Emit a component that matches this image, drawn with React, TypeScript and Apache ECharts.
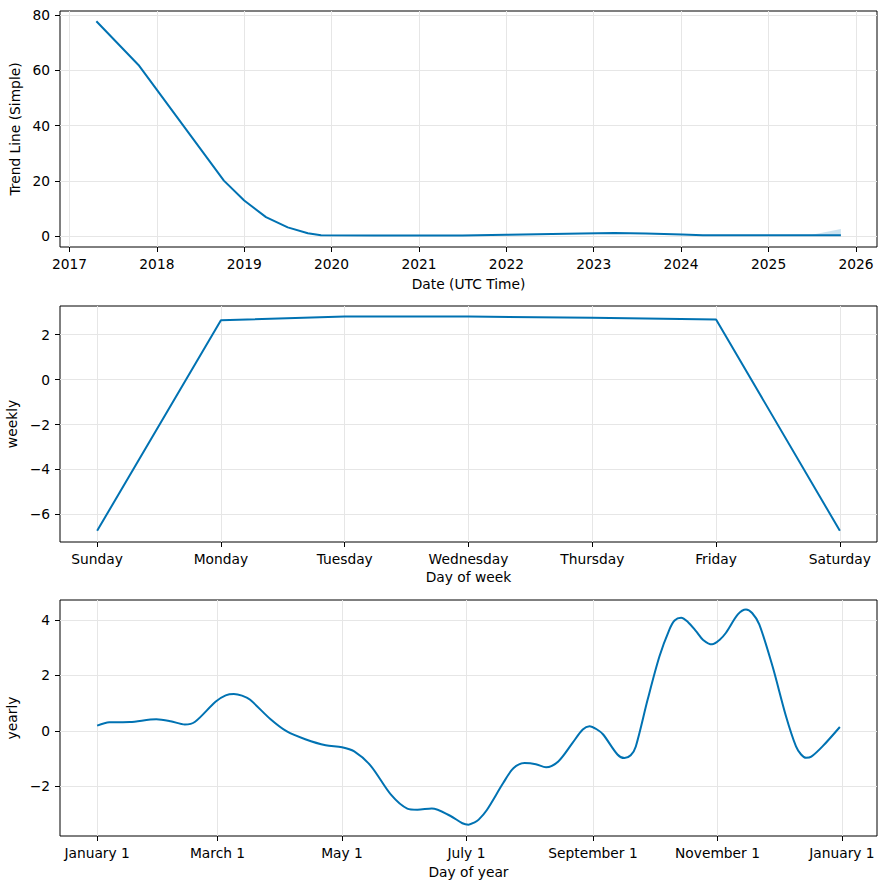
import React, { useEffect, useRef } from "react";
import * as echarts from "echarts";

// ---------- Trend panel ----------
const trendDates = [
  "2017-04-23", "2017-10-16", "2018-10-08",
  "2019-01-01", "2019-04-02", "2019-07-02", "2019-09-24", "2019-11-18", "2020-07-01",
  "2021-07-01", "2022-01-01", "2022-11-10", "2023-03-28", "2023-08-07", "2024-01-05",
  "2024-04-01", "2025-01-01", "2025-07-01", "2025-10-30",
];
const trendValues = [
  77.7, 61.9, 20.1,
  12.9, 6.9, 3.2, 1.1, 0.35, 0.3,
  0.3, 0.55, 1.0, 1.15, 1.0, 0.58,
  0.35, 0.35, 0.35, 0.35,
];
const trendUpper = [
  77.75, 61.95, 20.15,
  12.95, 6.95, 3.25, 1.15, 0.4, 0.35,
  0.35, 0.6, 1.05, 1.25, 1.15, 0.62,
  0.4, 0.4, 0.5, 2.6,
];
const trendLower = [
  77.65, 61.85, 20.05,
  12.85, 6.85, 3.15, 1.05, 0.3, 0.25,
  0.25, 0.5, 0.95, 1.05, 0.9, 0.54,
  0.3, 0.3, 0.3, 0.25,
];
const trendYearTicks = [2017, 2018, 2019, 2020, 2021, 2022, 2023, 2024, 2025, 2026];
const trendYTicks = [0, 20, 40, 60, 80];

// ---------- Weekly panel ----------
const weekdays = ["Sunday", "Monday", "Tuesday", "Wednesday", "Thursday", "Friday", "Saturday"];
const weeklyValues = [-6.73, 2.65, 2.81, 2.81, 2.76, 2.68, -6.73];
const weeklyXTicks = [0, 1, 2, 3, 4, 5, 6];
const weeklyYTicks = [-6, -4, -2, 0, 2];

// ---------- Yearly panel ----------
const yearlyDays = [
  0, 6, 16, 29, 36, 43, 48, 58, 63, 67, 71, 75, 85, 93, 102, 112, 120, 126, 134, 144,
  152, 157, 164, 173, 179, 182, 185, 187, 191, 199, 204, 209.5, 215, 220, 226, 233, 238, 241.3,
  245, 248, 255, 258.4, 261.5, 264, 269.8, 275.6, 280.5, 283, 286.2, 289.5, 293.5, 297, 301.4,
  305, 308.2, 314, 318, 321, 324.5, 331, 337.6, 342.5, 345, 347.4, 350, 355.5, 364,
];
const yearlyValues = [
  0.19, 0.31, 0.32, 0.42, 0.35, 0.23, 0.33, 1.05, 1.28, 1.33, 1.27, 1.12, 0.42, -0.02, -0.3, -0.52, -0.59, -0.74, -1.25, -2.3,
  -2.8, -2.84, -2.8, -3.06, -3.33, -3.38, -3.3, -3.2, -2.85, -1.88, -1.35, -1.16, -1.2, -1.31, -1.1, -0.43, 0.05, 0.17,
  0.05, -0.13, -0.85, -0.98, -0.88, -0.56, 1.13, 2.69, 3.66, 3.98, 4.08, 3.93, 3.6, 3.28, 3.12,
  3.28, 3.54, 4.2, 4.38, 4.25, 3.84, 2.33, 0.53, -0.56, -0.85, -0.97, -0.93, -0.56, 0.14,
];
const yearlyTickDays = [0, 59, 120, 181, 243, 304, 365];
const yearlyTickLabels = ["January 1", "March 1", "May 1", "July 1", "September 1", "November 1", "January 1"];
const yearlyYTicks = [-2, 0, 2, 4];

const LINE = "#0072B2";
const FONT = "DejaVu Sans";
const FS = 13.8;

function ts(d: string) {
  const [y, m, dd] = d.split("-").map(Number);
  return Date.UTC(y, m - 1, dd);
}
const minus = (v: number) => String(v).replace("-", "\u2212");

export default function App() {
  const ref = useRef<HTMLDivElement>(null);
  useEffect(() => {
    if (!ref.current) return;
    const chart = echarts.init(ref.current, undefined, { renderer: "svg" });

    const tickStyle = { show: true, length: 5, lineStyle: { color: "#000", width: 1 } };
    const label = { color: "#000", fontFamily: FONT, fontSize: FS, margin: 10 };
    const nameStyle = { color: "#000", fontFamily: FONT, fontSize: FS };
    const noLine = { show: false, onZero: false };
    const grid = (top: number) => ({
      left: 60, right: 9, top, height: 236, show: true, borderColor: "#000", borderWidth: 1,
      backgroundColor: "transparent", containLabel: false, outerBoundsMode: "none",
    });
    const gridLines = (xs: number[], ys: number[]) => ({
      silent: true,
      z: 1,
      symbol: ["none", "none"],
      label: { show: false },
      emphasis: { disabled: true },
      lineStyle: { color: "#e6e6e6", type: "solid", width: 1 },
      data: [...xs.map((v) => ({ xAxis: v })), ...ys.map((v) => ({ yAxis: v }))],
    });

    const yearTickTs = trendYearTicks.map((y) => Date.UTC(y, 0, 1));
    const tMin = Date.UTC(2016, 10, 22);
    const tMax = Date.UTC(2026, 2, 30);

    const trendData = trendDates.map((d, i) => [ts(d), trendValues[i]]);
    const bandData = trendDates.map((d, i) => [ts(d), trendLower[i], trendUpper[i]]);
    const weeklyData = weeklyValues.map((v, i) => [i, v]);
    const yearlyData = yearlyDays.map((d, i) => [d, yearlyValues[i]]);

    const option: any = {
      animation: false,
      textStyle: { fontFamily: FONT },
      grid: [grid(11), grid(306), grid(600)],
      xAxis: [
        {
          type: "value", gridIndex: 0, min: tMin, max: tMax,
          name: "Date (UTC Time)", nameLocation: "middle", nameGap: 30, nameTextStyle: nameStyle,
          axisLine: noLine, splitLine: { show: false },
          axisTick: { ...tickStyle, customValues: yearTickTs },
          axisLabel: { ...label, customValues: yearTickTs, formatter: (v: number) => String(new Date(v + 43200000).getUTCFullYear()) },
        },
        {
          type: "value", gridIndex: 1, min: -0.3, max: 6.3,
          name: "Day of week", nameLocation: "middle", nameGap: 28, nameTextStyle: nameStyle,
          axisLine: noLine, splitLine: { show: false },
          axisTick: { ...tickStyle, customValues: weeklyXTicks },
          axisLabel: { ...label, customValues: weeklyXTicks, formatter: (v: number) => weekdays[Math.round(v)] },
        },
        {
          type: "value", gridIndex: 2, min: -18.2, max: 382.2,
          name: "Day of year", nameLocation: "middle", nameGap: 29, nameTextStyle: nameStyle,
          axisLine: noLine, splitLine: { show: false },
          axisTick: { ...tickStyle, customValues: yearlyTickDays },
          axisLabel: {
            ...label, customValues: yearlyTickDays,
            formatter: (v: number) => yearlyTickLabels[yearlyTickDays.indexOf(Math.round(v))] ?? "",
          },
        },
      ],
      yAxis: [
        {
          type: "value", gridIndex: 0, min: -3.9, max: 81.4,
          name: "Trend Line (Simple)", nameLocation: "middle", nameGap: 28, nameTextStyle: nameStyle,
          axisLine: noLine, splitLine: { show: false },
          axisTick: { ...tickStyle, customValues: trendYTicks },
          axisLabel: { ...label, customValues: trendYTicks, formatter: minus },
        },
        {
          type: "value", gridIndex: 1, min: -7.23, max: 3.28,
          name: "weekly", nameLocation: "middle", nameGap: 28, nameTextStyle: nameStyle,
          axisLine: noLine, splitLine: { show: false },
          axisTick: { ...tickStyle, customValues: weeklyYTicks },
          axisLabel: { ...label, customValues: weeklyYTicks, formatter: minus },
        },
        {
          type: "value", gridIndex: 2, min: -3.79, max: 4.72,
          name: "yearly", nameLocation: "middle", nameGap: 28, nameTextStyle: nameStyle,
          axisLine: noLine, splitLine: { show: false },
          axisTick: { ...tickStyle, customValues: yearlyYTicks },
          axisLabel: { ...label, customValues: yearlyYTicks, formatter: minus },
        },
      ],
      series: [
        // grid-line hosts (drawn underneath)
        {
          type: "line", xAxisIndex: 0, yAxisIndex: 0, symbol: "none", z: 1, silent: true,
          lineStyle: { opacity: 0 }, data: trendData,
          markLine: gridLines(yearTickTs, trendYTicks),
        },
        {
          type: "line", xAxisIndex: 1, yAxisIndex: 1, symbol: "none", z: 1, silent: true,
          lineStyle: { opacity: 0 }, data: weeklyData,
          markLine: gridLines(weeklyXTicks, weeklyYTicks),
        },
        {
          type: "line", xAxisIndex: 2, yAxisIndex: 2, symbol: "none", z: 1, silent: true,
          lineStyle: { opacity: 0 }, data: yearlyData,
          markLine: gridLines(yearlyTickDays, yearlyYTicks),
        },
        // uncertainty band
        {
          type: "custom", xAxisIndex: 0, yAxisIndex: 0, z: 2, silent: true,
          encode: { x: 0, y: [1, 2] },
          data: bandData,
          renderItem: (params: any, api: any) => {
            if (params.dataIndex !== 0) return null;
            const up = bandData.map((r) => api.coord([r[0], r[2]]));
            const lo = bandData.map((r) => api.coord([r[0], r[1]])).reverse();
            return {
              type: "polygon",
              shape: { points: [...up, ...lo] },
              style: { fill: "rgba(0,114,178,0.2)", stroke: "none" },
            };
          },
        },
        {
          type: "line", xAxisIndex: 0, yAxisIndex: 0, symbol: "none", z: 3,
          lineStyle: { color: LINE, width: 2 },
          data: trendData,
        },
        {
          type: "line", xAxisIndex: 1, yAxisIndex: 1, symbol: "none", z: 3,
          lineStyle: { color: LINE, width: 2 },
          data: weeklyData,
        },
        {
          type: "line", xAxisIndex: 2, yAxisIndex: 2, symbol: "none", smooth: 0.3, z: 3,
          lineStyle: { color: LINE, width: 2 },
          data: yearlyData,
        },
      ],
    };
    chart.setOption(option);
    return () => chart.dispose();
  }, []);
  return <div ref={ref} style={{ width: 886, height: 889, position: "absolute", left: 0, top: 0 }} />;
}
